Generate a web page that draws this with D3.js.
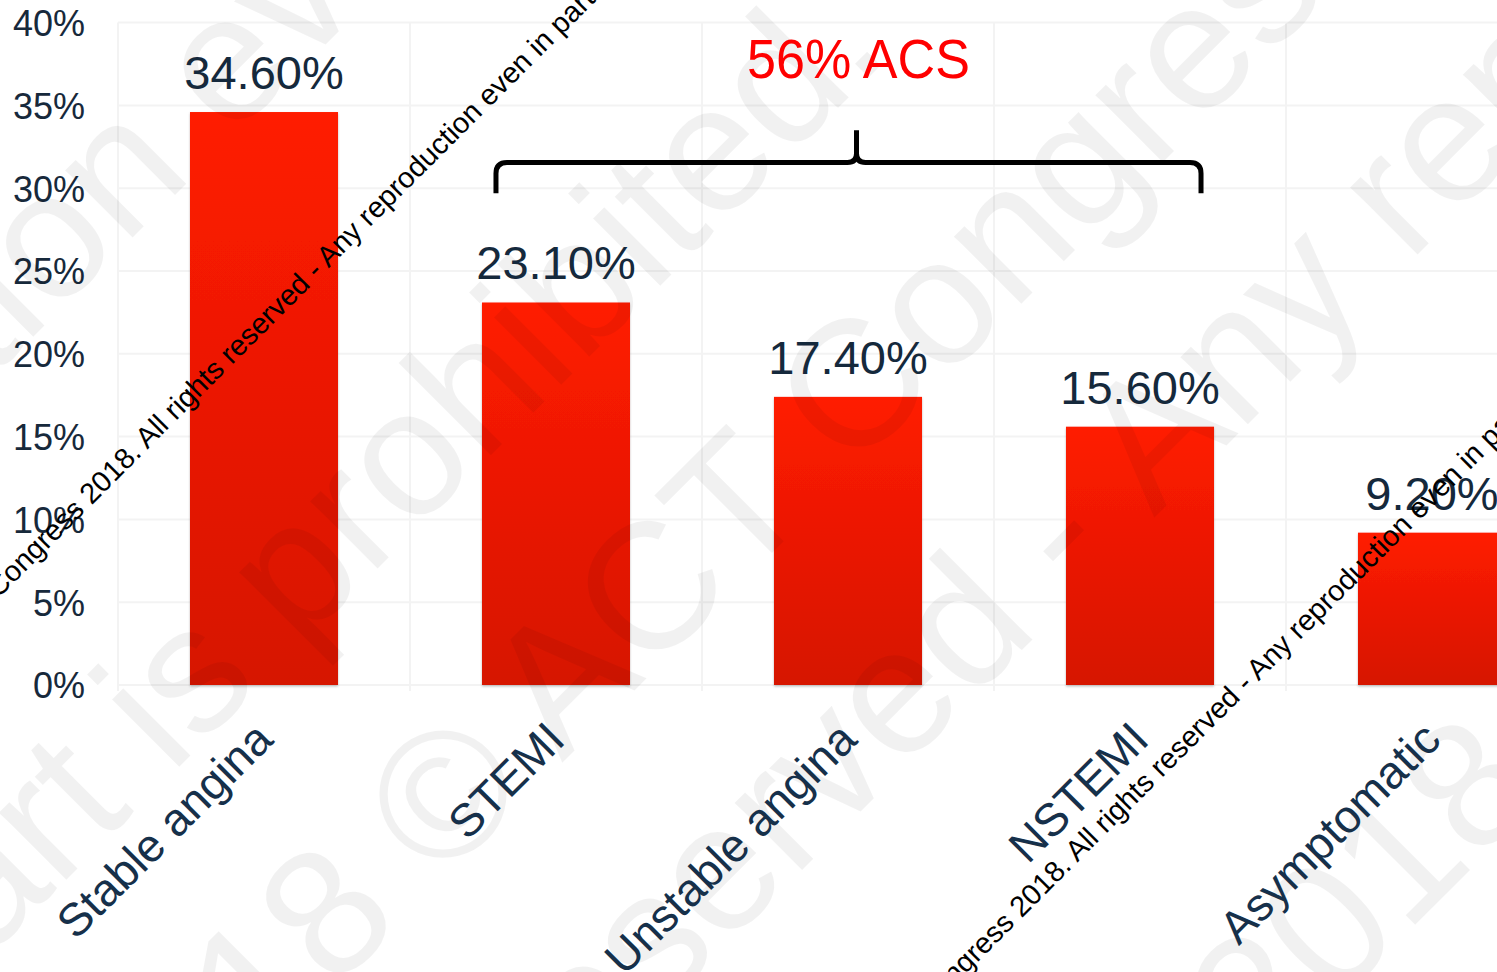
<!DOCTYPE html>
<html><head><meta charset="utf-8">
<script src="https://cdn.jsdelivr.net/npm/d3@7"></script>
<style>html,body{margin:0;padding:0;background:#fff;overflow:hidden} .pre{white-space:pre}</style>
</head><body><svg id="chart" width="1497" height="972"></svg>
<script>
// ---------- data ----------
const categories = ["Stable angina", "STEMI", "Unstable angina", "NSTEMI", "Asymptomatic"];
const values = [34.6, 23.1, 17.4, 15.6, 9.2];
const valueLabels = ["34.60%", "23.10%", "17.40%", "15.60%", "9.20%"];
const yTicks = [0, 5, 10, 15, 20, 25, 30, 35, 40];
const yTickLabels = ["0%", "5%", "10%", "15%", "20%", "25%", "30%", "35%", "40%"];
const acsSpan = ["STEMI", "NSTEMI"];
const acsLabel = "56% ACS";

// watermark texts (decorative)
const bigWatermark = [
  {before: "All rights reserved - Any reproduction ", after: "even in part is prohibited", px: 230, py: 140},
  {before: "2018. Any reproduction even in part is ", after: "prohibited. © ACT Congress", px: 298, py: 648},
  {before: "prohibited. 2018 ", after: "© ACT Congress 2018", px: 440, py: 885},
  {before: "Congress 2018. All rights reserved - ", after: "Any reproduction even in part", px: 1154, py: 518},
  {before: "prohibited. © ACT Congress ", after: "2018. All rights reserved", px: 1264, py: 1076}
];
const smallWatermark = [
  {text: "Congress 2018. All rights reserved - Any reproduction even in part is prohibited", px: -2, py: 599},
  {text: "Congress 2018. All rights reserved - Any reproduction even in part is prohibited", px: 928, py: 1012}
];

// ---------- setup ----------
const FONT = "'Liberation Sans', Arial, Helvetica, sans-serif";
const svg = d3.select("#chart");
const defs = svg.append("defs");
const grad = defs.append("linearGradient").attr("id", "barGrad")
  .attr("x1", 0).attr("y1", 0).attr("x2", 0).attr("y2", 1);
grad.append("stop").attr("offset", "0%").attr("stop-color", "#ff1c00");
grad.append("stop").attr("offset", "100%").attr("stop-color", "#d61300");
const shadow = defs.append("filter").attr("id", "barShadow")
  .attr("x", "-5%").attr("y", "-5%").attr("width", "110%").attr("height", "110%");
shadow.append("feDropShadow").attr("dx", 0).attr("dy", 1.5).attr("stdDeviation", 1)
  .attr("flood-color", "#777").attr("flood-opacity", 0.45);

const x = d3.scaleBand().domain(categories).range([118, 1578])
  .paddingInner(0.493).paddingOuter(0.2465);
const y = d3.scaleLinear().domain([0, 40]).range([685, 22.6]);
const bw = x.bandwidth();
const gap = x.step() - bw;

// ---------- grid ----------
const grid = svg.append("g");
grid.selectAll("line.h").data(yTicks).join("line")
  .attr("x1", 118).attr("x2", 1497)
  .attr("y1", d => y(d)).attr("y2", d => y(d))
  .attr("stroke", "#f3f3f3").attr("stroke-width", 2);
const bounds = categories.map(c => x(c) - gap / 2).concat([x(categories[categories.length - 1]) + bw + gap / 2]);
grid.selectAll("line.v").data(bounds).join("line")
  .attr("x1", d => d).attr("x2", d => d)
  .attr("y1", y(40)).attr("y2", y(0) + 6)
  .attr("stroke", "#f3f3f3").attr("stroke-width", 2);

// ---------- y axis labels ----------
const yAxis = d3.axisLeft(y).tickValues(yTicks)
  .tickFormat((d, i) => yTickLabels[i]).tickSize(0).tickPadding(33);
const ya = svg.append("g").attr("transform", "translate(118,0)").call(yAxis);
ya.select(".domain").remove();
ya.selectAll("text").attr("font-family", FONT).attr("font-size", 36)
  .attr("fill", "#17293b").attr("dy", "0.36em");

// ---------- bars ----------
const data = categories.map((c, i) => ({c, v: values[i], label: valueLabels[i]}));
svg.append("g").selectAll("rect").data(data).join("rect")
  .attr("x", d => x(d.c)).attr("width", bw)
  .attr("y", d => y(d.v)).attr("height", d => y(0) - y(d.v))
  .attr("fill", "url(#barGrad)").attr("filter", "url(#barShadow)");

// ---------- big faint watermark ----------
const wm = svg.append("g").attr("font-family", FONT).attr("font-size", 180)
  .attr("fill", "#000").attr("fill-opacity", 0.055);
bigWatermark.forEach(w => {
  const g = wm.append("g").attr("transform", `translate(${w.px},${w.py}) rotate(-45)`);
  g.append("text").attr("class", "pre").attr("xml:space", "preserve").attr("text-anchor", "end").text(w.before);
  g.append("text").attr("class", "pre").attr("xml:space", "preserve").attr("text-anchor", "start").text(w.after);
});

// ---------- value labels ----------
svg.append("g").selectAll("text").data(data).join("text")
  .attr("x", d => x(d.c) + bw / 2).attr("y", d => y(d.v) - 23)
  .attr("text-anchor", "middle").attr("font-family", FONT).attr("font-size", 47)
  .attr("fill", "#15293c").text(d => d.label);

// ---------- category labels ----------
svg.append("g").selectAll("text").data(data).join("text")
  .attr("transform", d => `translate(${x(d.c) + bw / 2 + 11},${y(0) + 57}) rotate(-45)`)
  .attr("text-anchor", "end").attr("font-family", FONT).attr("font-size", 46)
  .attr("fill", "#16304a").text(d => d.c);

// ---------- ACS brace ----------
const L = x(acsSpan[0]) + 14;
const R = x(acsSpan[1]) + bw - 13;
const P = (L + R) / 2 + 8;
const yH = y(31.55), yTip = y(29.7), yPeak = y(33.5);
const r = 11;
const brace = d3.path();
brace.moveTo(L, yTip);
brace.lineTo(L, yH + r);
brace.quadraticCurveTo(L, yH, L + r, yH);
brace.lineTo(P - 9, yH);
brace.quadraticCurveTo(P, yH, P, yH - 9);
brace.lineTo(P, yPeak);
brace.moveTo(P, yH - 9);
brace.quadraticCurveTo(P, yH, P + 9, yH);
brace.lineTo(R - r, yH);
brace.quadraticCurveTo(R, yH, R, yH + r);
brace.lineTo(R, yTip);
svg.append("path").attr("d", brace.toString()).attr("fill", "none")
  .attr("stroke", "#000").attr("stroke-width", 5).attr("stroke-linejoin", "round");
svg.append("text").attr("transform", `translate(${P + 2},${y(36.65)}) scale(0.93,1)`)
  .attr("text-anchor", "middle").attr("font-family", FONT).attr("font-size", 56)
  .attr("fill", "#ff0000").text(acsLabel);

// ---------- small black watermark ----------
const swm = svg.append("g").attr("font-family", FONT).attr("font-size", 29).attr("fill", "#000");
smallWatermark.forEach(w => {
  swm.append("text").attr("transform", `translate(${w.px},${w.py}) rotate(-45)`).text(w.text);
});
</script></body></html>
